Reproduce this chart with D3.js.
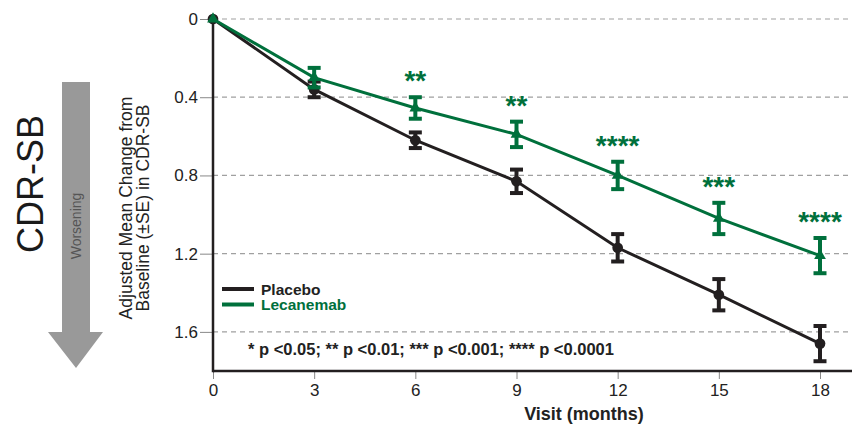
<!DOCTYPE html>
<html>
<head>
<meta charset="utf-8">
<script src="https://cdn.jsdelivr.net/npm/d3@7"></script>
<style>
  body { margin: 0; background: #fff; }
  text { font-family: Arial, "Liberation Sans", sans-serif; }
</style>
</head>
<body>
<svg id="chart" width="852" height="425"></svg>
<script>
  // data
  var months = [0, 3, 6, 9, 12, 15, 18];
  var placebo = [0, 0.36, 0.62, 0.83, 1.17, 1.41, 1.66];
  var placeboSE = [0, 0.04, 0.04, 0.06, 0.07, 0.08, 0.09];
  var lecanemab = [0, 0.30, 0.455, 0.59, 0.80, 1.02, 1.21];
  var lecanemabSE = [0, 0.05, 0.055, 0.065, 0.07, 0.08, 0.09];
  var stars = ["", "", "**", "**", "****", "***", "****"];
  var yTicks = [0, 0.4, 0.8, 1.2, 1.6];

  var BLACK = "#231f20", GREEN = "#00703c";

  var svg = d3.select("#chart");
  var x = d3.scaleLinear().domain([0, 18]).range([213, 820]);
  var y = d3.scaleLinear().domain([0, 1.8]).range([19, 371]);

  // dashed grid
  svg.append("g").selectAll("line").data(yTicks).enter().append("line")
    .attr("x1", x(0)).attr("x2", 852)
    .attr("y1", function(d) { return y(d); }).attr("y2", function(d) { return y(d); })
    .attr("stroke", "#a0a0a0").attr("stroke-width", 1.2).attr("stroke-dasharray", "5,4");

  // y axis
  var yAxis = svg.append("g").attr("transform", "translate(" + x(0) + ",0)")
    .call(d3.axisLeft(y).tickValues(yTicks).tickSize(13).tickPadding(2)
      .tickFormat(function(d) { return d === 0 ? "0" : d3.format(".1f")(d); }));
  yAxis.select(".domain").remove();
  yAxis.selectAll(".tick line").attr("stroke", "#888").attr("stroke-width", 1);
  yAxis.selectAll(".tick text").attr("font-size", 17).attr("fill", "#222")
    .attr("font-family", "Arial, 'Liberation Sans', sans-serif");

  // x axis
  var xAxis = svg.append("g").attr("transform", "translate(0," + y(1.8) + ")")
    .call(d3.axisBottom(x).tickValues(months).tickSize(8).tickPadding(5));
  xAxis.select(".domain").remove();
  xAxis.selectAll(".tick line").attr("stroke", "#888").attr("stroke-width", 1);
  xAxis.selectAll(".tick text").attr("font-size", 17).attr("fill", "#222")
    .attr("font-family", "Arial, 'Liberation Sans', sans-serif");

  // axis frame lines
  svg.append("line").attr("x1", x(0)).attr("x2", 852).attr("y1", y(1.8)).attr("y2", y(1.8))
    .attr("stroke", BLACK).attr("stroke-width", 2.5);
  svg.append("line").attr("x1", x(0)).attr("x2", x(0)).attr("y1", y(0)).attr("y2", y(1.8) + 1.2)
    .attr("stroke", BLACK).attr("stroke-width", 2.5);

  // titles
  svg.append("text").attr("x", 584).attr("y", 420).attr("text-anchor", "middle")
    .attr("font-size", 18).attr("font-weight", "bold").attr("fill", "#222").text("Visit (months)");

  var yt = svg.append("text").attr("transform", "translate(132,208) rotate(-90)")
    .attr("text-anchor", "middle").attr("font-size", 17.5).attr("fill", "#222");
  yt.append("tspan").attr("x", 0).attr("dy", 0).text("Adjusted Mean Change from");
  yt.append("tspan").attr("x", 0).attr("dy", 17).text("Baseline (\u00b1SE) in CDR-SB");

  svg.append("text").attr("transform", "translate(43,184) rotate(-90)")
    .attr("text-anchor", "middle").attr("font-size", 36).attr("fill", "#1a1a1a").text("CDR-SB");

  // worsening arrow
  svg.append("path")
    .attr("d", "M62,82 L90,82 L90,332 L103,332 L76,368 L48,332 L62,332 Z")
    .attr("fill", "#999");
  svg.append("text").attr("transform", "translate(81,226) rotate(-90)")
    .attr("text-anchor", "middle").attr("font-size", 14).attr("fill", "#555").text("Worsening");

  // series
  var line = d3.line().x(function(d) { return x(d[0]); }).y(function(d) { return y(d[1]); });

  function drawSeries(vals, se, color, marker) {
    var pts = months.map(function(m, i) { return [m, vals[i], se[i]]; });
    var g = svg.append("g");
    g.append("path").datum(pts).attr("d", line).attr("fill", "none")
      .attr("stroke", color).attr("stroke-width", 3);
    var eb = g.selectAll(".eb").data(pts.filter(function(d) { return d[2] > 0; })).enter().append("g");
    eb.append("line")
      .attr("x1", function(d) { return x(d[0]); }).attr("x2", function(d) { return x(d[0]); })
      .attr("y1", function(d) { return y(d[1] - d[2]); }).attr("y2", function(d) { return y(d[1] + d[2]); })
      .attr("stroke", color).attr("stroke-width", 4);
    [-1, 1].forEach(function(s) {
      eb.append("line")
        .attr("x1", function(d) { return x(d[0]) - 6.5; }).attr("x2", function(d) { return x(d[0]) + 6.5; })
        .attr("y1", function(d) { return y(d[1] + s * d[2]); }).attr("y2", function(d) { return y(d[1] + s * d[2]); })
        .attr("stroke", color).attr("stroke-width", 4);
    });
    g.selectAll(".mk").data(pts).enter().append("path")
      .attr("transform", function(d) { return "translate(" + x(d[0]) + "," + y(d[1]) + ")"; })
      .attr("d", d3.symbol().type(marker).size(marker === d3.symbolCircle ? 90 : 60))
      .attr("fill", color);
  }

  drawSeries(placebo, placeboSE, BLACK, d3.symbolCircle);
  drawSeries(lecanemab, lecanemabSE, GREEN, d3.symbolTriangle);

  // significance stars
  svg.append("g").selectAll("text").data(months).enter().append("text")
    .attr("x", function(d) { return x(d); })
    .attr("y", function(d, i) { return y(lecanemab[i] - lecanemabSE[i]) - 7; })
    .attr("text-anchor", "middle").attr("font-size", 28).attr("font-weight", "bold")
    .attr("fill", GREEN)
    .text(function(d, i) { return stars[i]; });

  // legend
  var legend = [["Placebo", BLACK], ["Lecanemab", GREEN]];
  var lg = svg.append("g").selectAll("g").data(legend).enter().append("g")
    .attr("transform", function(d, i) { return "translate(0," + (289 + i * 15.5) + ")"; });
  lg.append("line").attr("x1", 222).attr("x2", 254).attr("stroke", function(d) { return d[1]; })
    .attr("stroke-width", 4);
  lg.append("text").attr("x", 261).attr("y", 5.5).attr("font-size", 15.5).attr("font-weight", "bold")
    .attr("fill", function(d) { return d[1] === BLACK ? "#222" : d[1]; })
    .text(function(d) { return d[0]; });

  // footnote
  svg.append("text").attr("x", 248).attr("y", 355).attr("font-size", 16.5).attr("font-weight", "bold")
    .attr("fill", "#222").text("* p <0.05; ** p <0.01; *** p <0.001; **** p <0.0001");
</script>
</body>
</html>
